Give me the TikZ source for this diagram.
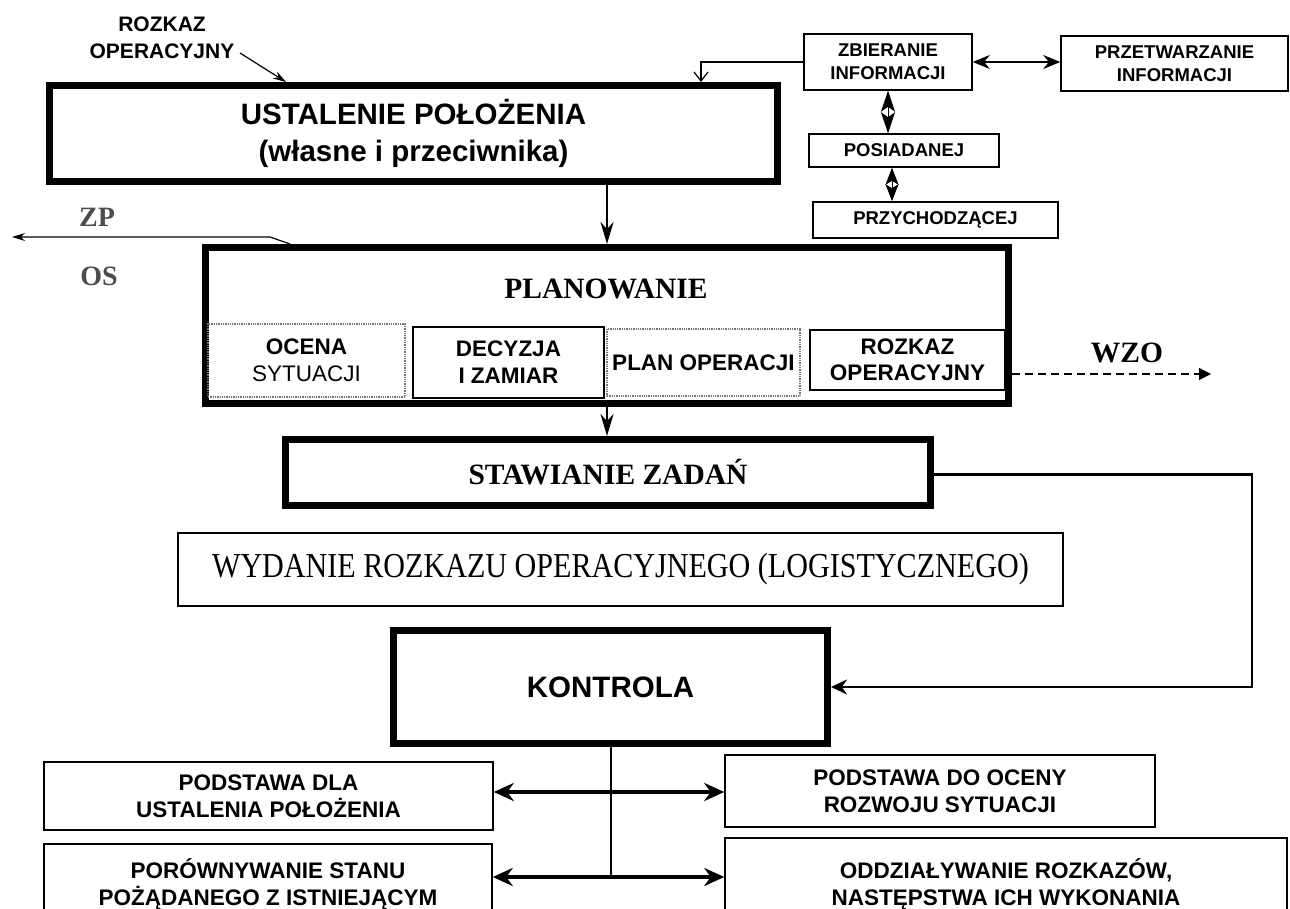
\documentclass[tikz,border=0pt]{standalone}
\usepackage{fontspec}
\setmainfont{Liberation Serif}
\newfontfamily\arialf{Liberation Sans}
\newfontfamily\serifnarrow[FakeStretch=0.86]{Liberation Serif}
\usetikzlibrary{arrows.meta}
\begin{document}
\begin{tikzpicture}[x=1pt,y=-1pt,
  thickbox/.style={draw, line width=7pt, inner sep=0pt, align=center},
  thinbox/.style={draw, line width=1.5pt, inner sep=0pt, align=center},
  dotbox/.style={draw=black!55, line width=1.3pt, densely dotted, inner sep=0pt, align=center},
  sbig/.style={font=\arialf\bfseries\fontsize{29.5}{37}\selectfont},
  ssmall/.style={font=\arialf\bfseries\fontsize{18.5}{23}\selectfont},
  smid/.style={font=\arialf\bfseries\fontsize{22.5}{27}\selectfont},
  slab/.style={font=\arialf\bfseries\fontsize{21}{27}\selectfont, align=center},
  rbig/.style={font=\bfseries\fontsize{29.5}{34}\selectfont},
  rgray/.style={font=\bfseries\fontsize{28}{32}\selectfont, text=black!70},
  arrdown/.style={line width=2.5pt, -{Stealth[length=22pt,width=13pt]}},
  thinarr/.style={line width=1.2pt, -{Stealth[length=13pt,width=8pt]}},
  openarr/.style={line width=1.2pt, -{Straight Barb[length=9pt,width=14pt]}},
  dblarr/.style={line width=1.2pt, {Stealth[length=17pt,width=14pt]}-{Stealth[length=17pt,width=14pt]}},
  bigdbl/.style={line width=4pt, {Stealth[length=20pt,width=18pt]}-{Stealth[length=20pt,width=18pt]}},
  karr/.style={line width=2.4pt, -{Stealth[length=16pt,width=15pt]}},
  dasharr/.style={line width=1.3pt, dash pattern=on 8pt off 5pt, -{Triangle[length=12pt,width=12pt]}}
]
\useasboundingbox (0,0) rectangle (1290,909);
\fill[white] (0,0) rectangle (1290,909);
\clip (0,0) rectangle (1290,909);

% ---------- top part ----------
\node[slab] (rozlab) at (162,37.5) {ROZKAZ\\OPERACYJNY};
\node[thickbox, sbig, minimum width=728pt, minimum height=96pt] (ust) at (413.5,133.5)
  {USTALENIE POŁOŻENIA\\(własne i przeciwnika)};

\node[thinbox, ssmall, minimum width=168pt, minimum height=56pt] (zbier) at (888,62) {ZBIERANIE\\INFORMACJI};
\node[thinbox, ssmall, minimum width=227pt, minimum height=55pt] (przetw) at (1174.5,63.5) {PRZETWARZANIE\\INFORMACJI};
\node[thinbox, ssmall, minimum width=190pt, minimum height=33pt] (posiad) at (904,150.5) {POSIADANEJ};
\node[thinbox, ssmall, minimum width=245pt, minimum height=36pt] (przych) at (935.5,220) {PRZYCHODZĄCEJ};

\node[rgray] (zp) at (97,217) {ZP};
\node[rgray] (os) at (99,276) {OS};

% ---------- planowanie ----------
\node[thickbox, minimum width=803pt, minimum height=156pt] (plan) at (607,325.5) {};
\node[rbig] (planlab) at (606,289) {PLANOWANIE};
\node[dotbox, smid, minimum width=197pt, minimum height=73pt] (ocena) at (306.5,360.5) {OCENA\\\mdseries SYTUACJI};
\node[thinbox, smid, minimum width=191pt, minimum height=71pt] (decyzja) at (508.5,362.5) {DECYZJA\\I ZAMIAR};
\node[dotbox, smid, minimum width=193pt, minimum height=67pt] (planop) at (703.5,362.5) {PLAN OPERACJI};
\node[thinbox, smid, minimum width=195pt, minimum height=60pt, font=\arialf\bfseries\fontsize{22.5}{26}\selectfont] (rozkaz) at (907.5,360) {ROZKAZ\\OPERACYJNY};
\node[rbig] (wzo) at (1127,353) {WZO};

% ---------- stawianie / wydanie / kontrola ----------
\node[thickbox, rbig, minimum width=645pt, minimum height=66pt] (staw) at (608,472.5) {STAWIANIE ZADAŃ};
\node[thinbox, font=\serifnarrow\fontsize{35}{38}\selectfont, minimum width=885pt, minimum height=73pt] (wyd) at (620.5,569.5)
  {WYDANIE ROZKAZU OPERACYJNEGO (LOGISTYCZNEGO)};
\node[thickbox, sbig, minimum width=434pt, minimum height=113pt] (kontrola) at (610.5,687) {KONTROLA};

% ---------- bottom ----------
\node[thinbox, smid, minimum width=449pt, minimum height=68pt] (pdla) at (268.5,796) {PODSTAWA DLA\\USTALENIA POŁOŻENIA};
\node[thinbox, smid, minimum width=430pt, minimum height=72pt] (pdo) at (940,791) {PODSTAWA DO OCENY\\ROZWOJU SYTUACJI};
\node[thinbox, smid, minimum width=448pt, minimum height=80pt] (porown) at (268,884) {PORÓWNYWANIE STANU\\POŻĄDANEGO Z ISTNIEJĄCYM};
\node[thinbox, smid, minimum width=562pt, minimum height=92pt] (oddz) at (1006,884) {ODDZIAŁYWANIE ROZKAZÓW,\\NASTĘPSTWA ICH WYKONANIA};

% ---------- coordinates ----------
\coordinate (rzA) at (240,53);
\coordinate (rzx) at (286,0);
\coordinate (zbx) at (701,0);
\coordinate (d2x) at (892,0);
\coordinate (zpx) at (290,0);
\coordinate (zpB) at (270,237);
\coordinate (zpEnd) at (12,237);
\coordinate (wzoY) at (0,374);
\coordinate (wzoEnd) at (1211,374);
\coordinate (rtx) at (1252,0);
\coordinate (by1) at (0,792);
\coordinate (by2) at (0,877);

% ---------- connectors ----------
\draw[thinarr] (rzA) -- (ust.north -| rzx);
\draw[openarr] (zbier.west) -| (ust.north -| zbx);
\draw[dblarr] (zbier.east) -- (przetw.west |- zbier.east);
\draw[line width=0.8pt, {Stealth[length=21pt,width=14pt,inset=5pt]}-{Stealth[length=21pt,width=14pt,inset=5pt]}]
  (zbier.south) -- (zbier.south |- posiad.north);
\draw[line width=0.8pt, {Stealth[length=17pt,width=13pt,inset=4pt]}-{Stealth[length=17pt,width=13pt,inset=4pt]}]
  (posiad.south -| d2x) -- (przych.north -| d2x);
\draw[thinarr] (plan.north -| zpx) -- (zpB) -- (zpEnd);
\draw[arrdown] (ust.south -| plan.north) -- (plan.north);
\draw[arrdown] (plan.south) -- (plan.south |- staw.north);
\draw[dasharr] (plan.east |- wzoY) -- (wzoEnd);
\draw[karr] ([yshift=-2pt]staw.east) -- ([yshift=-2pt]staw.east -| rtx) |- (kontrola.east);
\draw[line width=2pt] (kontrola.south) -- (kontrola.south |- by2);
\draw[bigdbl] (pdla.east |- by1) -- (pdo.west |- by1);
\draw[bigdbl] (porown.east |- by2) -- (oddz.west |- by2);
\end{tikzpicture}
\end{document}
